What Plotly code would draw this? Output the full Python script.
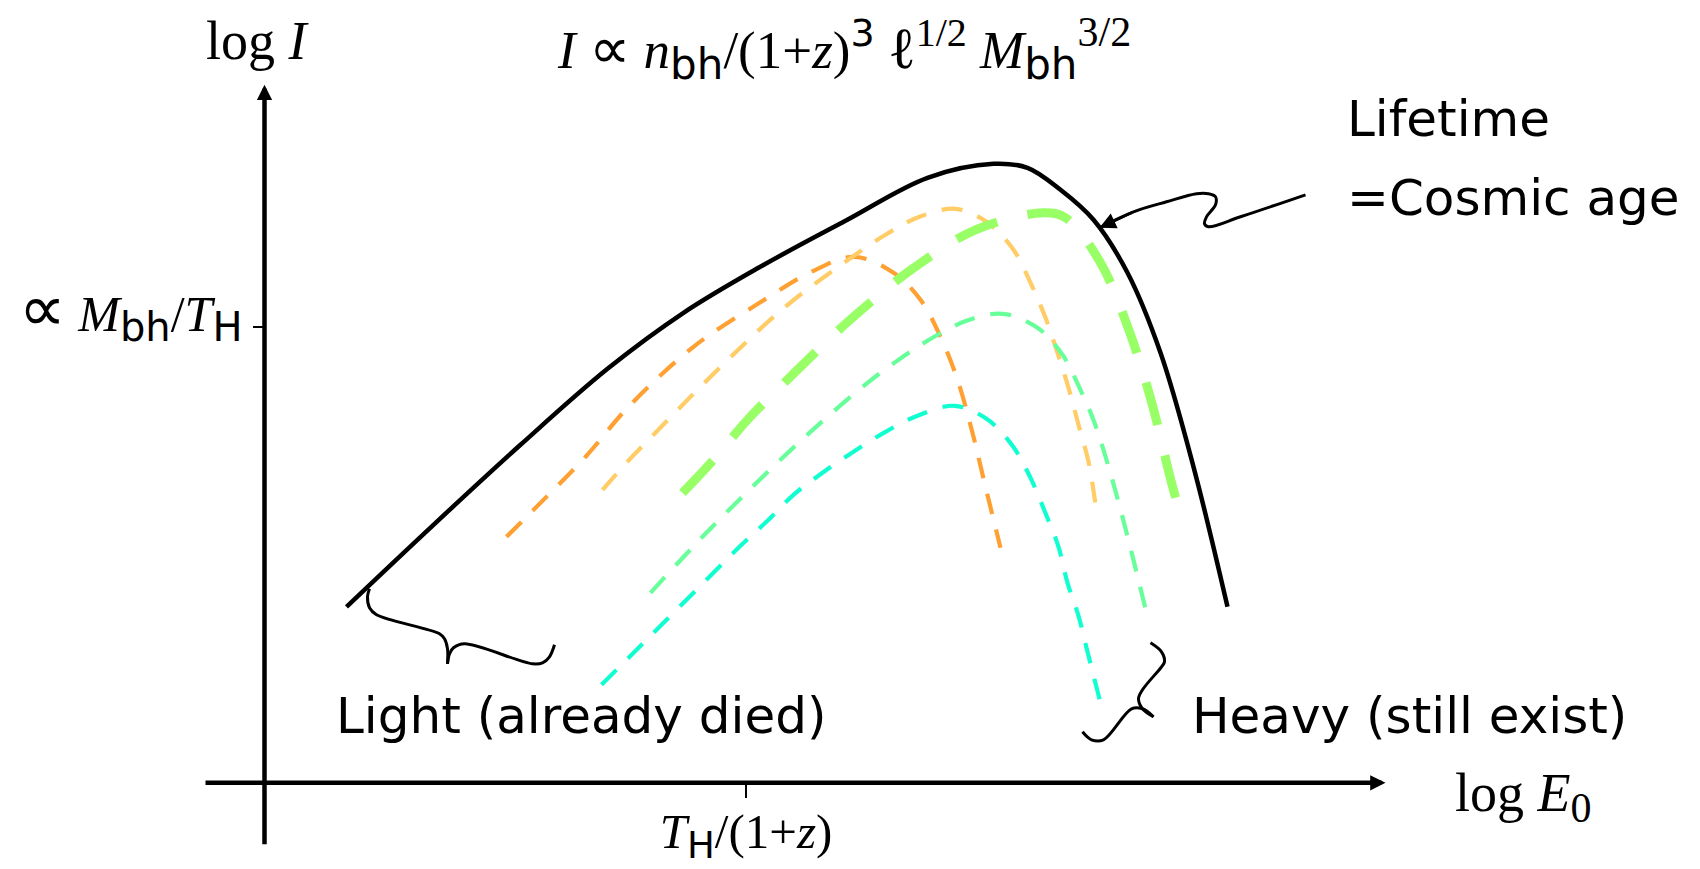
import plotly.graph_objects as go

# ---- schematic spectra (arbitrary units: x = log E0, y = log I) ----
envelope_x = [0.82, 1.69, 2.56, 3.43, 4.19, 4.94, 5.81, 6.63, 7.29, 7.63, 7.96, 8.29, 8.63, 8.96, 9.29, 9.63]
envelope_y = [1.76, 2.58, 3.38, 4.14, 4.70, 5.15, 5.62, 6.05, 6.19, 6.15, 5.93, 5.63, 5.10, 4.30, 3.16, 1.76]

orange_x = [2.42, 2.68, 3.21, 3.64, 4.29, 4.95, 5.49, 5.90, 6.29, 6.56, 6.76, 6.93, 7.09, 7.20, 7.36]
orange_y = [2.46, 2.72, 3.26, 3.76, 4.36, 4.80, 5.12, 5.26, 5.10, 4.83, 4.46, 4.03, 3.46, 3.00, 2.35]

gold_x = [3.38, 3.62, 3.89, 4.43, 5.16, 5.71, 6.21, 6.55, 6.91, 7.22, 7.49, 7.66, 7.81, 7.93, 8.04, 8.14, 8.24, 8.31]
gold_y = [2.93, 3.20, 3.48, 4.03, 4.72, 5.14, 5.48, 5.66, 5.74, 5.61, 5.33, 5.00, 4.65, 4.30, 3.95, 3.58, 3.21, 2.78]

lime_x = [4.18, 4.49, 4.84, 5.33, 5.80, 6.15, 6.48, 7.11, 7.79, 8.01, 8.36, 8.65, 8.87, 9.05, 9.12]
lime_y = [2.90, 3.23, 3.64, 4.13, 4.58, 4.88, 5.14, 5.53, 5.70, 5.65, 5.20, 4.51, 3.81, 3.08, 2.82]

mint_x = [3.86, 4.38, 4.90, 5.45, 6.03, 6.37, 6.68, 7.02, 7.38, 7.73, 7.98, 8.15, 8.30, 8.52, 8.81]
mint_y = [1.90, 2.46, 2.98, 3.50, 4.00, 4.25, 4.45, 4.62, 4.69, 4.55, 4.28, 3.95, 3.60, 2.88, 1.74]

cyan_x = [3.37, 3.89, 4.42, 4.76, 5.03, 5.29, 5.58, 5.89, 6.21, 6.53, 6.90, 7.22, 7.48, 7.66, 7.80, 7.94, 8.03, 8.14, 8.23, 8.36]
cyan_y = [0.98, 1.50, 2.03, 2.37, 2.62, 2.88, 3.10, 3.31, 3.51, 3.67, 3.77, 3.64, 3.37, 3.05, 2.72, 2.36, 2.00, 1.67, 1.31, 0.80]

# ---- braces and pointer ----
light_brace_a_x = [1.05, 1.03, 1.05, 1.12, 1.75, 1.80, 1.83, 1.83]
light_brace_a_y = [1.94, 1.86, 1.75, 1.68, 1.49, 1.44, 1.34, 1.19]
light_brace_b_x = [1.83, 1.85, 1.89, 2.00, 2.68, 2.78, 2.85, 2.90]
light_brace_b_y = [1.19, 1.29, 1.35, 1.39, 1.19, 1.20, 1.26, 1.38]

heavy_brace_a_x = [8.86, 8.97, 9.00, 8.97, 8.78, 8.74, 8.78, 8.89]
heavy_brace_a_y = [1.40, 1.31, 1.21, 1.16, 0.93, 0.84, 0.74, 0.66]
heavy_brace_b_x = [8.89, 8.78, 8.67, 8.39, 8.27, 8.18]
heavy_brace_b_y = [0.66, 0.74, 0.74, 0.43, 0.43, 0.51]

pointer_x = [10.41, 9.76, 9.44, 9.40, 9.42, 9.51, 9.51, 9.44, 9.32, 9.02, 8.69, 8.35]
pointer_y = [5.88, 5.66, 5.56, 5.59, 5.66, 5.78, 5.86, 5.89, 5.89, 5.81, 5.71, 5.55]

# ---- axes ----
x_axis_start, x_axis_end = -0.605, 11.21
y_axis_start, y_axis_end = -0.63, 6.98
x_tick_val = [4.815]
y_tick_val = [4.554]

SANS = "DejaVu Sans"
SERIF = "Liberation Serif"
SYMBOL = "DejaVu Serif"


def sub_sans(s, px):
    return f'<sub><span style="font-family:{SANS};font-size:{px}px">{s}</span></sub>'


def sup_txt(s, px, family=SERIF):
    return f'<sup><span style="font-family:{family};font-size:{px}px">{s}</span></sup>'


def styled(s, family, px):
    return f'<span style="font-family:{family};font-size:{px}px">{s}</span>'


x_tick_text = [f"<i>T</i>{sub_sans('H', 37)}/(1+<i>z</i>)"]
y_tick_text = [f"{styled('∝', SANS, 66)} <i>M</i>{sub_sans('bh', 40)}/<i>T</i>{sub_sans('H', 40)}"]
formula_text = (f"<i>I</i> {styled('∝', SANS, 58)} <i>n</i>{sub_sans('bh', 42)}/(1+<i>z</i>)"
                f"{sup_txt('3', 38, SANS)} {styled('ℓ', SYMBOL, 58)}{sup_txt('1/2', 40)} "
                f"<i>M</i>{sub_sans('bh', 42)}{sup_txt('3/2', 42)}")
log_e_text = 'log <i>E</i><sub><span style="font-size:42px">0</span></sub>'

fig = go.Figure()

spectra = [
    (orange_x, orange_y, "#FFA033", 4.2, "21px,16px"),
    (gold_x, gold_y, "#FFCC66", 4.2, "21px,16px"),
    (lime_x, lime_y, "#99FF66", 9, "44px,31px"),
    (mint_x, mint_y, "#66FF99", 4.2, "21px,16px"),
    (cyan_x, cyan_y, "#11FFD0", 4.2, "21px,16px"),
]
for xs, ys, col, w, dash in spectra:
    fig.add_trace(go.Scatter(x=xs, y=ys, mode="lines",
                             line=dict(color=col, width=w, dash=dash, shape="spline", smoothing=1)))

fig.add_trace(go.Scatter(x=envelope_x, y=envelope_y, mode="lines",
                         line=dict(color="black", width=4.5, shape="spline", smoothing=1)))

for xs, ys in [(light_brace_a_x, light_brace_a_y), (light_brace_b_x, light_brace_b_y),
               (heavy_brace_a_x, heavy_brace_a_y), (heavy_brace_b_x, heavy_brace_b_y),
               (pointer_x, pointer_y)]:
    fig.add_trace(go.Scatter(x=xs, y=ys, mode="lines",
                             line=dict(color="black", width=3, shape="spline", smoothing=1)))

# axis arrows
fig.add_annotation(x=x_axis_end, y=0, ax=x_axis_start, ay=0, axref="x", ayref="y",
                   xref="x", yref="y", text="", showarrow=True, arrowhead=2,
                   arrowwidth=4.5, arrowsize=0.68, arrowcolor="black", standoff=0)
fig.add_annotation(x=0, y=y_axis_end, ax=0, ay=y_axis_start, axref="x", ayref="y",
                   xref="x", yref="y", text="", showarrow=True, arrowhead=2,
                   arrowwidth=4.5, arrowsize=0.68, arrowcolor="black", standoff=0)
# pointer head
fig.add_annotation(x=pointer_x[-1], y=pointer_y[-1], ax=pointer_x[-2], ay=pointer_y[-2],
                   axref="x", ayref="y", xref="x", yref="y", text="", showarrow=True,
                   arrowhead=2, arrowwidth=2.6, arrowsize=1.25, arrowcolor="black", standoff=0)

log_font = dict(family=SERIF, size=54, color="black")
sans_font = dict(family=SANS, size=50, color="black")

fig.add_annotation(x=-0.065, y=7.42, text="log <i>I</i>", showarrow=False,
                   xanchor="center", yanchor="middle", font=log_font)
fig.add_annotation(x=2.905, y=7.34, text=formula_text, showarrow=False,
                   xanchor="left", yanchor="middle", font=dict(family=SERIF, size=53, color="black"))
fig.add_annotation(x=11.885, y=-0.14, text=log_e_text, showarrow=False,
                   xanchor="left", yanchor="middle", font=log_font)
fig.add_annotation(x=10.80, y=6.64, text="Lifetime", showarrow=False,
                   xanchor="left", yanchor="middle", font=sans_font)
fig.add_annotation(x=10.80, y=5.85, text="=Cosmic age", showarrow=False,
                   xanchor="left", yanchor="middle", font=sans_font)
fig.add_annotation(x=0.695, y=0.67, text="Light (already died)", showarrow=False,
                   xanchor="left", yanchor="middle", font=sans_font)
fig.add_annotation(x=9.255, y=0.67, text="Heavy (still exist)", showarrow=False,
                   xanchor="left", yanchor="middle", font=sans_font)

fig.update_layout(
    width=1700, height=869,
    margin=dict(l=0, r=0, t=0, b=0),
    paper_bgcolor="white", plot_bgcolor="white",
    showlegend=False,
    xaxis=dict(range=[-2.645, 14.355], showgrid=False, zeroline=False, showline=False,
               automargin=False, anchor="free", position=(869 - 782.8) / 869,
               ticks="outside", ticklen=14, tickwidth=2, tickcolor="black",
               tickvals=x_tick_val, ticktext=x_tick_text, ticklabelstandoff=-9,
               tickfont=dict(family=SERIF, size=49, color="black")),
    yaxis=dict(range=[-0.862, 7.828], showgrid=False, zeroline=False, showline=False,
               automargin=False, anchor="free", position=264.5 / 1700,
               ticks="outside", ticklen=12, tickwidth=2, tickcolor="black",
               tickvals=y_tick_val, ticktext=y_tick_text, ticklabelshift=-14,
               tickfont=dict(family=SERIF, size=50, color="black")),
)

fig.write_html("out.html")
